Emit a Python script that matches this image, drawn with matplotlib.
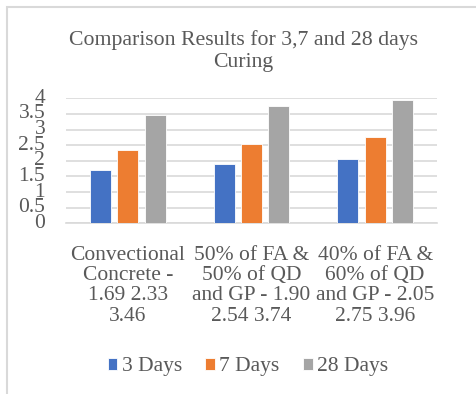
import matplotlib
matplotlib.use("Agg")
import matplotlib.pyplot as plt
import matplotlib.patches as mpatches
import numpy as np

categories = ["Convectional\nConcrete -\n1.69 2.33\n3.46",
              "50% of FA &\n50% of QD\nand GP - 1.90\n2.54 3.74",
              "40% of FA &\n60% of QD\nand GP - 2.05\n2.75 3.96"]
series_names = ["3 Days", "7 Days", "28 Days"]
days3 = [1.69, 1.90, 2.05]
days7 = [2.33, 2.54, 2.75]
days28 = [3.46, 3.74, 3.96]
yticks = [0, 0.5, 1, 1.5, 2, 2.5, 3, 3.5, 4]
ytick_labels = ["0", "0.5", "1", "1.5", "2", "2.5", "3", "3.5", "4"]

colors = ["#4472C4", "#ED7D31", "#A5A5A5"]
text_color = "#595959"
grid_color = "#D9D9D9"

plt.rcParams['font.family'] = ['Liberation Serif', 'DejaVu Serif']

fig = plt.figure(figsize=(4.76, 3.94), dpi=100)
ax = fig.add_axes([66/476, 1-223.3/394, (437-66)/476, (223.3-98.3)/394])

x = np.arange(len(categories))
width = 0.17
step = 0.222
handles = []
for i, (vals, name) in enumerate(zip([days3, days7, days28], series_names)):
    b = ax.bar(x + (i-1)*step, vals, width, color=colors[i], label=name,
               edgecolor="white", linewidth=0.6, zorder=3)
    handles.append(b)

ax.set_xlim(-0.5, 2.5)
ax.set_ylim(0, 4)
ax.set_yticks(yticks)
ax.set_yticklabels(ytick_labels)
ax.set_xticks(x)
ax.set_xticklabels(categories, linespacing=1.1)
ax.tick_params(axis='both', length=0, labelsize=15.5, colors=text_color)
ax.tick_params(axis='y', pad=15)
ax.tick_params(axis='x', pad=16)
for lbl in ax.get_yticklabels():
    lbl.set_verticalalignment('center')
ax.grid(axis='y', color=grid_color, linewidth=1.2, zorder=0)
for s in ['top', 'right', 'left']:
    ax.spines[s].set_visible(False)
ax.spines['bottom'].set_color(grid_color)
ax.spines['bottom'].set_linewidth(1.2)

fig.text(243.5/476, 1-51/394, "Comparison Results for 3,7 and 28 days\nCuring",
         ha='center', va='center', fontsize=15.7, color=text_color, linespacing=1.2)

leg = fig.legend(handles=handles, labels=series_names, loc='center',
                 bbox_to_anchor=(248/476, 1-367/394), ncol=3, frameon=False,
                 fontsize=15.5, handlelength=0.45, handleheight=0.45,
                 handletextpad=0.2, columnspacing=1.1, labelcolor=text_color)

border = mpatches.Rectangle((7/476, -0.2), 2, 1.2 - 7/394, transform=fig.transFigure,
                            fill=False, edgecolor=grid_color, linewidth=1.5)
fig.patches.append(border)

fig.savefig("out.png", dpi=100)
